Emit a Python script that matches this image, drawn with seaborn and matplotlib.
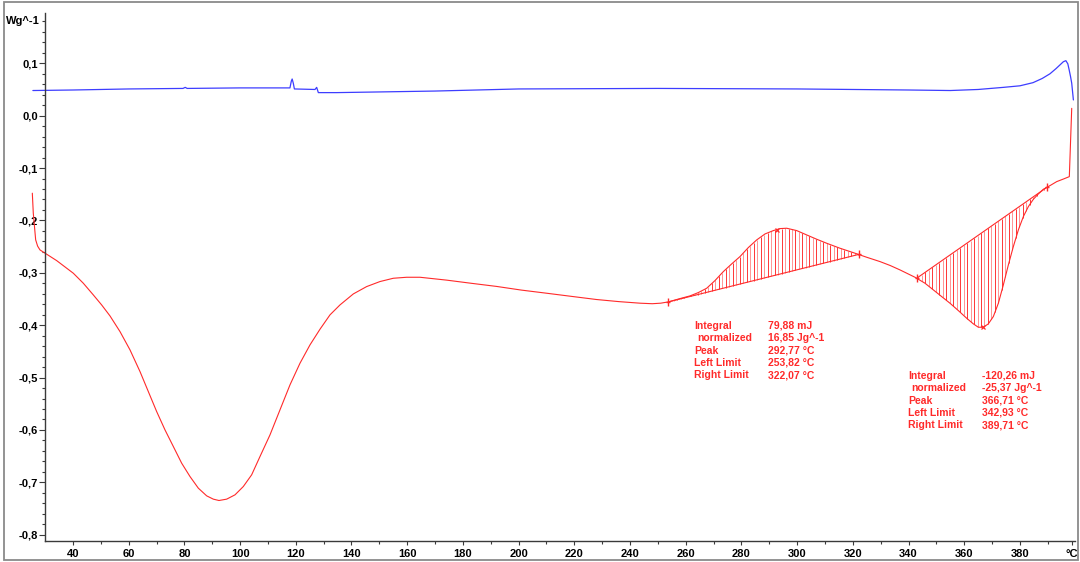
import numpy as np
import pandas as pd
import matplotlib
matplotlib.use("Agg")
import matplotlib.pyplot as plt
import seaborn as sns
from matplotlib.ticker import FixedLocator, FuncFormatter
from matplotlib.patches import Rectangle
import matplotlib.transforms as mtransforms

# --- DSC signal, second run (red) -------------------------------------------
temp_red = [25.4, 25.75, 26.6, 27.3, 28.15, 34.14, 40.12, 43.71, 47.30, 50.29,
            53.29, 56.88, 60.47, 64.06, 67.05, 70.04, 73.03, 76.03, 79.02, 82.01,
            85.00, 88.00, 90.39, 92.42, 95.18, 98.17, 101.16, 104.15, 107.15, 110.74,
            114.33, 117.92, 121.51, 125.10, 128.69, 132.28, 135.87, 140.66, 145.44, 150.23,
            155.02, 159.81, 164.60, 174.2, 183.0, 192.1, 201.0, 210.1, 219.0, 228.0,
            236.0, 243.6, 248.0, 251.0, 253.82, 257.96, 261.54, 264.54, 267.53, 270.52,
            273.51, 276.51, 279.50, 282.49, 285.49, 288.48, 291.47, 293.86, 296.26, 299.85,
            303.44, 307.03, 310.62, 315.40, 320.79, 324.98, 329.77, 333.4, 336.95, 342.33,
            345.92, 348.91, 351.91, 354.90, 357.89, 360.88, 363.28, 365.07, 366.87, 368.66,
            370.46, 372.26, 374.05, 375.85, 377.64, 379.44, 381.23, 383.03, 384.83, 386.62,
            388.42, 390.81, 393.21, 395.60, 397.74, 398.6]
heat_red = [-0.148, -0.186, -0.237, -0.249, -0.2563, -0.2767, -0.3008, -0.3199, -0.3422, -0.3613,
            -0.3823, -0.4122, -0.4471, -0.4885, -0.5267, -0.5648, -0.5998, -0.6316, -0.6634, -0.6889,
            -0.7111, -0.7258, -0.7321, -0.7347, -0.7321, -0.7239, -0.7080, -0.6857, -0.6507, -0.6094,
            -0.5616, -0.5139, -0.4726, -0.4376, -0.4077, -0.3803, -0.3613, -0.3403, -0.3263, -0.3167,
            -0.3104, -0.3085, -0.3085, -0.3140, -0.3200, -0.3260, -0.3330, -0.3390, -0.3450, -0.3510,
            -0.3550, -0.3580, -0.3590, -0.3580, -0.3555, -0.3492, -0.3441, -0.3377, -0.3295, -0.3148,
            -0.2977, -0.2830, -0.2690, -0.2518, -0.2372, -0.2258, -0.2194, -0.2156, -0.2149, -0.2194,
            -0.2277, -0.2359, -0.2436, -0.2531, -0.2626, -0.2703, -0.2786, -0.2860, -0.2945, -0.3085,
            -0.3199, -0.3326, -0.3454, -0.3581, -0.3721, -0.3867, -0.3975, -0.4039, -0.4039, -0.3975,
            -0.3835, -0.3581, -0.3231, -0.2849, -0.2499, -0.2181, -0.1927, -0.1736, -0.1596, -0.1494,
            -0.1405, -0.1335, -0.1259, -0.1210, -0.1164, 0.014]

# --- DSC signal, first run (blue) -------------------------------------------
temp_blue = [25.6, 40.0, 60.0, 79.5, 80.3, 81.0, 100.0, 117.9, 118.4, 118.7,
             119.1, 119.5, 126.9, 127.5, 128.1, 134.7, 146.6, 170.0, 200.0, 250.0,
             300.0, 340.0, 355.0, 365.0, 374.0, 380.0, 384.7, 388.0, 390.8, 393.0,
             394.4, 395.6, 396.5, 397.2, 397.7, 398.2, 398.6, 399.2]
heat_blue = [0.048, 0.049, 0.051, 0.052, 0.054, 0.052, 0.053, 0.053, 0.066, 0.070,
             0.062, 0.051, 0.050, 0.054, 0.044, 0.044, 0.045, 0.047, 0.051, 0.052,
             0.051, 0.049, 0.048, 0.050, 0.054, 0.057, 0.063, 0.071, 0.080, 0.090,
             0.097, 0.103, 0.105, 0.099, 0.087, 0.074, 0.062, 0.030]

# --- Peak integration results -----------------------------------------------
result_labels = ["Integral", "normalized", "Peak", "Left Limit", "Right Limit"]
peak1_values = ["79,88 mJ", "16,85 Jg^-1", "292,77 °C", "253,82 °C", "322,07 °C"]
peak2_values = ["-120,26 mJ", "-25,37 Jg^-1", "366,71 °C", "342,93 °C", "389,71 °C"]
peak1_limits = [253.82, 292.77, 322.07]   # left, peak, right
peak2_limits = [342.93, 366.71, 389.71]

x_major = [40, 60, 80, 100, 120, 140, 160, 180, 200, 220, 240, 260, 280,
           300, 320, 340, 360, 380]
y_major = [-0.8, -0.7, -0.6, -0.5, -0.4, -0.3, -0.2, -0.1, 0.0, 0.1]

RED = "#ff2a2a"
BLUE = "#3d3dff"

sns.set_theme(style="white")
plt.rcParams["font.family"] = ["Liberation Sans", "DejaVu Sans"]

fig = plt.figure(figsize=(10.8, 5.62), dpi=100)
ax = fig.add_axes([0.02889, 0.03737, 0.96602, 0.93950])

df_red = pd.DataFrame({"T": temp_red, "HF": heat_red})
df_blue = pd.DataFrame({"T": temp_blue, "HF": heat_blue})
sns.lineplot(data=df_blue, x="T", y="HF", ax=ax, color=BLUE, lw=0.9,
             sort=False, estimator=None)
sns.lineplot(data=df_red, x="T", y="HF", ax=ax, color=RED, lw=0.8,
             sort=False, estimator=None)

# hatched integration areas with straight baselines
for (left, peak, right) in (peak1_limits, peak2_limits):
    yl = np.interp(left, temp_red, heat_red)
    yr = np.interp(right, temp_red, heat_red)
    ax.plot([left, right], [yl, yr], color=RED, lw=0.8)
    ts = np.arange(left + 0.6, right, 1.25)
    curve = np.interp(ts, temp_red, heat_red)
    base = yl + (yr - yl) * (ts - left) / (right - left)
    for i, (t, b, c) in enumerate(zip(ts, base, curve)):
        ax.plot([t, t], [b, c], color=RED, lw=0.7,
                alpha=0.95 if i % 2 == 0 else 0.5, solid_capstyle="butt")
    ax.plot([left, right], [yl, yr], ls="none", marker="|", ms=6, mew=1.0, color=RED)
    ax.plot([left, right], [yl, yr], ls="none", marker="_", ms=3.5, mew=1.0, color=RED)
    ax.plot([peak], [np.interp(peak, temp_red, heat_red)], ls="none",
            marker="x", ms=3, mew=0.9, color=RED)

# result tables
row_step = 0.02357
for (x_lab, x_val, y0, values) in ((263.0, 289.55, -0.4013, peak1_values),
                                   (339.9, 366.28, -0.4968, peak2_values)):
    for i, (lab, val) in enumerate(zip(result_labels, values)):
        y = y0 - i * row_step
        xl = x_lab + (1.2 if lab == "normalized" else 0.0)
        ax.text(xl, y, lab, color=RED, fontsize=7.5, fontweight="bold",
                ha="left", va="center")
        ax.text(x_val, y, val, color=RED, fontsize=7.5, fontweight="bold",
                ha="left", va="center")

# axes
ax.set_xlim(25.0, 399.6)
ax.set_ylim(-0.812, 0.196)
ax.set_xlabel("")
ax.set_ylabel("")
for s in ("top", "right"):
    ax.spines[s].set_visible(False)
ax.spines["left"].set_position(("data", 30.0))
ax.spines["bottom"].set_bounds(30.0, 399.6)
for s in ("left", "bottom"):
    ax.spines[s].set_color("#3a3a3a")
    ax.spines[s].set_linewidth(1.0)

x_ticks = x_major + [398.7]
x_labels = [str(v) for v in x_major] + ["°C"]
ax.xaxis.set_major_locator(FixedLocator(x_ticks))
ax.set_xticklabels(x_labels)
ax.xaxis.set_minor_locator(FixedLocator(list(range(50, 400, 20))))
ax.yaxis.set_major_locator(FixedLocator(y_major))
ax.yaxis.set_minor_locator(FixedLocator([round(-0.8 + 0.02 * k, 2) for k in range(50)]))
ax.yaxis.set_major_formatter(FuncFormatter(
    lambda v, p: f"{round(v, 1):.1f}".replace("-0.0", "0.0").replace(".", ",")))

ax.tick_params(axis="both", which="both", direction="out", color="#3a3a3a",
               width=0.8, bottom=True, left=True)
ax.tick_params(axis="y", which="major", length=4, pad=1.2,
               labelsize=8, labelcolor="black")
ax.tick_params(axis="y", which="minor", length=2.2)
ax.tick_params(axis="x", which="major", length=3, pad=3,
               labelsize=8, labelcolor="black")
ax.tick_params(axis="x", which="minor", length=2.2)
for lbl in ax.get_xticklabels() + ax.get_yticklabels():
    lbl.set_fontweight("bold")

# unit label at the top of the y axis
trans = mtransforms.blended_transform_factory(ax.transData, ax.transData)
ax.text(30.0 - 5.0 / 2.785, 0.1813, "Wg^-1", transform=trans, ha="right",
        va="center", fontsize=8, fontweight="bold", color="black")

ax.grid(False)
ax.set_facecolor("white")

# outer frame of the figure
fig.patches.append(Rectangle((4 / 1080, 2 / 562), 1074 / 1080, 558 / 562,
                             transform=fig.transFigure, fill=False,
                             edgecolor="#8a8a8a", lw=1.3))

fig.savefig("out.png", dpi=100, facecolor="white")
